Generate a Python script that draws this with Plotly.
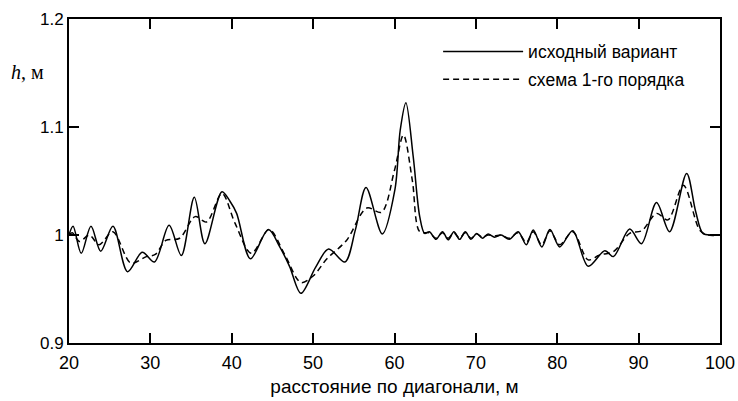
import plotly.graph_objects as go

# Water depth along the diagonal: original run vs. first-order scheme
x_orig = [20.0, 20.5, 21.5, 22.7, 23.9, 25.4, 27.2, 29.0, 30.5, 32.3, 33.8,
          35.4, 36.7, 38.8, 39.8, 40.6, 42.3, 44.5, 45.9, 47.1, 48.5, 50.3,
          51.9, 53.9, 55.2, 56.5, 58.5, 60.05, 60.7, 61.4, 62.3, 63.1, 63.7,
          64.3, 65.1, 65.9, 66.6, 67.3, 68.0, 68.7, 69.4, 70.1, 70.8, 71.5,
          72.3, 73.1, 74.1, 75.2, 76.2, 77.05, 78.1, 79.1, 80.3, 81.9, 83.8,
          85.85, 86.9, 88.9, 90.35, 92.2, 93.8, 95.9, 97.0, 97.9, 99.0, 100.0]
h_orig = [1.000, 1.008, 0.983, 1.008, 0.985, 1.008, 0.966, 0.984, 0.975, 1.009, 0.981,
          1.035, 0.992, 1.040, 1.031, 1.020, 0.978, 1.005, 0.989, 0.971, 0.946, 0.970,
          0.987, 0.975, 1.005, 1.044, 1.001, 1.042, 1.097, 1.1225, 1.0725, 1.017, 1.0015,
          1.003, 0.996, 1.003, 0.9955, 1.003, 0.996, 1.003, 0.996, 1.0015, 0.997, 1.001,
          0.998, 1.000, 0.996, 1.003, 0.991, 1.0046, 0.989, 1.005, 0.989, 1.004, 0.971,
          0.9855, 0.980, 1.0055, 0.992, 1.030, 1.003, 1.057, 1.022, 1.0015, 1.000, 1.000]

x_first = [20.0, 20.4, 21.3, 22.5, 23.7, 25.4, 27.6, 29.5, 30.6, 31.9, 33.6,
           35.5, 36.9, 38.8, 40.4, 42.4, 44.6, 46.5, 48.5, 50.0, 51.7, 54.1,
           56.6, 58.4, 60.0, 61.1, 62.2, 63.1,
           64.3, 65.1, 65.9, 66.6, 67.3, 68.0, 68.7, 69.4, 70.1, 70.8, 71.5,
           72.3, 73.1, 74.1, 75.2, 76.2, 77.05, 78.1, 79.1, 80.3, 81.9, 83.8,
           85.2, 86.9, 88.9, 90.4, 92.2, 93.6, 95.5, 97.5, 98.5, 100.0]
h_first = [1.000, 1.002, 0.994, 1.000, 0.991, 1.003, 0.974, 0.980, 0.982, 0.995, 0.997,
           1.017, 1.012, 1.0385, 1.011, 0.983, 1.005, 0.982, 0.956, 0.962, 0.978, 0.995,
           1.025, 1.021, 1.060, 1.0926, 1.050, 1.003,
           1.002, 0.997, 1.002, 0.997, 1.002, 0.997, 1.002, 0.997, 1.001, 0.998, 1.000,
           0.999, 1.000, 0.997, 1.002, 0.993, 1.003, 0.991, 1.004, 0.991, 1.003, 0.977,
           0.9815, 0.9846, 1.0015, 1.004, 1.020, 1.014, 1.046, 1.0046, 1.000, 1.000]

x_ticks = [20, 30, 40, 50, 60, 70, 80, 90, 100]
y_ticks = [0.9, 1.0, 1.1, 1.2]
y_tick_text = ["0.9", "1", "1.1", "1.2"]

sans = "Liberation Sans, Arial, sans-serif"
serif = "Liberation Serif, Times New Roman, serif"

fig = go.Figure()
fig.add_trace(go.Scatter(
    x=x_orig, y=h_orig, mode="lines", name="исходный вариант", legendgroup="a",
    line=dict(color="black", width=1.5, shape="spline", smoothing=0.9),
))
fig.add_trace(go.Scatter(
    x=x_first, y=h_first, mode="lines", name="схема 1-го порядка", legendgroup="b",
    line=dict(color="black", width=1.5, dash="6px,4px", shape="spline", smoothing=0.9),
))

axis_common = dict(
    showgrid=False, zeroline=False, showline=True, linecolor="black", linewidth=2,
    mirror="allticks", ticks="inside", ticklen=10, tickwidth=2, tickcolor="black",
    automargin=False,
)

fig.update_xaxes(range=[20, 100], tickvals=x_ticks, ticklabelstandoff=2,
                 tickfont=dict(family=sans, size=18, color="black"),
                 title=dict(text="расстояние по диагонали, м",
                            font=dict(family=sans, size=19, color="black"), standoff=8),
                 **axis_common)
fig.update_yaxes(range=[0.9, 1.2], tickvals=y_ticks, ticktext=y_tick_text,
                 tickfont=dict(family=sans, size=17, color="black"),
                 **axis_common)

fig.add_annotation(
    xref="paper", yref="paper", x=-0.036, y=0.836, xanchor="right", yanchor="middle",
    text="<i>h</i>, м", showarrow=False,
    font=dict(family=serif, size=20, color="black"),
)

fig.update_layout(
    width=738, height=401,
    margin=dict(l=69, r=18, t=19, b=58),
    plot_bgcolor="white", paper_bgcolor="white",
    showlegend=True,
    legend=dict(x=0.567, y=0.955, xanchor="left", yanchor="top",
                bgcolor="rgba(0,0,0,0)", borderwidth=0, traceorder="grouped",
                font=dict(family=sans, size=17.5, color="black"),
                itemwidth=80, tracegroupgap=2),
)

fig.write_html("out.html")
